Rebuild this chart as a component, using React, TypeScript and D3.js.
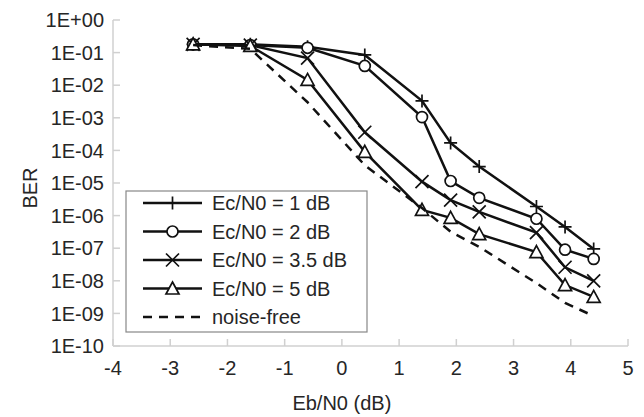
import React from "react";
import * as d3 from "d3";

const xValues = [-2.6, -1.6, -0.6, 0.4, 1.4, 1.9, 2.4, 3.4, 3.9, 4.4];
const ec1 = [0.18, 0.18, 0.15, 0.085, 3.3e-3, 1.7e-4, 3.2e-5, 1.9e-6, 4.5e-7, 9.5e-8];
const ec2 = [0.18, 0.17, 0.14, 0.039, 1.05e-3, 1.15e-5, 3.5e-6, 8e-7, 9e-8, 4.7e-8];
const ec35 = [0.18, 0.17, 0.068, 3.6e-4, 1.1e-5, 3e-6, 1.3e-6, 3e-7, 2.6e-8, 1e-8];
const ec5 = [0.18, 0.16, 0.0145, 9e-5, 1.5e-6, 8.5e-7, 2.7e-7, 7.6e-8, 7.4e-9, 3.2e-9];
const noiseFree = [0.17, 0.13, 3e-3, 3.5e-5, 1.7e-6, 3.2e-7, 1.1e-7, 8.5e-9, 2.1e-9, 8.3e-10];

const seriesNames = ["Ec/N0 = 1 dB", "Ec/N0 = 2 dB", "Ec/N0 = 3.5 dB", "Ec/N0 = 5 dB", "noise-free"];
const seriesMarkers = ["plus", "circle", "cross", "triangle", "none"];
const seriesData = [ec1, ec2, ec35, ec5, noiseFree];

const xTicks = [-4, -3, -2, -1, 0, 1, 2, 3, 4, 5];
const yTickExps = [0, -1, -2, -3, -4, -5, -6, -7, -8, -9, -10];
const yTickLabels = ["1E+00", "1E-01", "1E-02", "1E-03", "1E-04", "1E-05", "1E-06", "1E-07", "1E-08", "1E-09", "1E-10"];

const FONT = "'Liberation Sans', Arial, sans-serif";
const FS = 20;
const TEXT = "#262626";

function Marker({ type, x, y }: { type: string; x: number; y: number }) {
  const s = 6.5;
  if (type === "plus")
    return <path d={`M${x - s},${y}H${x + s}M${x},${y - s}V${y + s}`} stroke="#111" strokeWidth={1.7} fill="none" />;
  if (type === "cross")
    return <path d={`M${x - s},${y - s}L${x + s},${y + s}M${x - s},${y + s}L${x + s},${y - s}`} stroke="#111" strokeWidth={1.7} fill="none" />;
  if (type === "circle") return <circle cx={x} cy={y} r={5.5} fill="#fff" stroke="#111" strokeWidth={1.7} />;
  if (type === "triangle")
    return <path d={`M${x},${y - 6.5}L${x + 6.5},${y + 5.5}L${x - 6.5},${y + 5.5}Z`} fill="#fff" stroke="#111" strokeWidth={1.7} />;
  return null;
}

export default function App() {
  const W = 644, H = 417;
  const x = d3.scaleLinear().domain([-4, 5]).range([113, 628]);
  const y = d3.scaleLog().domain([1, 1e-10]).range([20, 346]);
  const line = d3.line<[number, number]>().x(d => x(d[0])).y(d => y(d[1]));

  return (
    <svg width={W} height={H} style={{ position: "absolute", left: 0, top: 0, background: "#fff" }} fontFamily={FONT}>
      <rect width={W} height={H} fill="#fff" />
      {/* axes */}
      <line x1={113} x2={113} y1={20} y2={346} stroke="#d0d0d0" strokeWidth={1.5} />
      <line x1={113} x2={628} y1={346} y2={346} stroke="#d0d0d0" strokeWidth={1.5} />
      {yTickExps.map((e, i) => (
        <g key={e}>
          <line x1={113} x2={120} y1={y(Math.pow(10, e))} y2={y(Math.pow(10, e))} stroke="#d0d0d0" strokeWidth={1.5} />
          <text x={104} y={y(Math.pow(10, e))} dy="0.36em" textAnchor="end" fontSize={FS} fill={TEXT}>{yTickLabels[i]}</text>
        </g>
      ))}
      {xTicks.map(t => (
        <g key={t}>
          <line x1={x(t)} x2={x(t)} y1={339} y2={346} stroke="#d0d0d0" strokeWidth={1.5} />
          <text x={x(t)} y={375} textAnchor="middle" fontSize={FS} fill={TEXT}>{t}</text>
        </g>
      ))}
      <text x={x(0)} y={410} textAnchor="middle" fontSize={FS} fill={TEXT}>Eb/N0 (dB)</text>
      <text transform={`translate(37,188) rotate(-90)`} textAnchor="middle" fontSize={FS} fill={TEXT}>BER</text>

      {/* series */}
      {seriesData.map((vals, si) => {
        const pts = xValues.map((xv, i) => [xv, vals[i]] as [number, number]);
        return (
          <g key={si}>
            <path d={line(pts) || ""} fill="none" stroke="#111" strokeWidth={2.5}
              strokeDasharray={seriesMarkers[si] === "none" ? "9,7" : undefined} />
            {pts.map((p, i) => <Marker key={i} type={seriesMarkers[si]} x={x(p[0])} y={y(p[1])} />)}
          </g>
        );
      })}

      {/* legend */}
      <rect x={126} y={191} width={241} height={141} fill="#fff" stroke="#888" strokeWidth={1.2} />
      {seriesNames.map((n, i) => {
        const cy = 203 + i * 28.5;
        return (
          <g key={n}>
            <line x1={143} x2={202} y1={cy} y2={cy} stroke="#111" strokeWidth={2.5}
              strokeDasharray={seriesMarkers[i] === "none" ? "9,7" : undefined} />
            <Marker type={seriesMarkers[i]} x={172.5} y={cy} />
            <text x={212} y={cy} dy="0.36em" fontSize={FS} fill={TEXT}>{n}</text>
          </g>
        );
      })}
    </svg>
  );
}
